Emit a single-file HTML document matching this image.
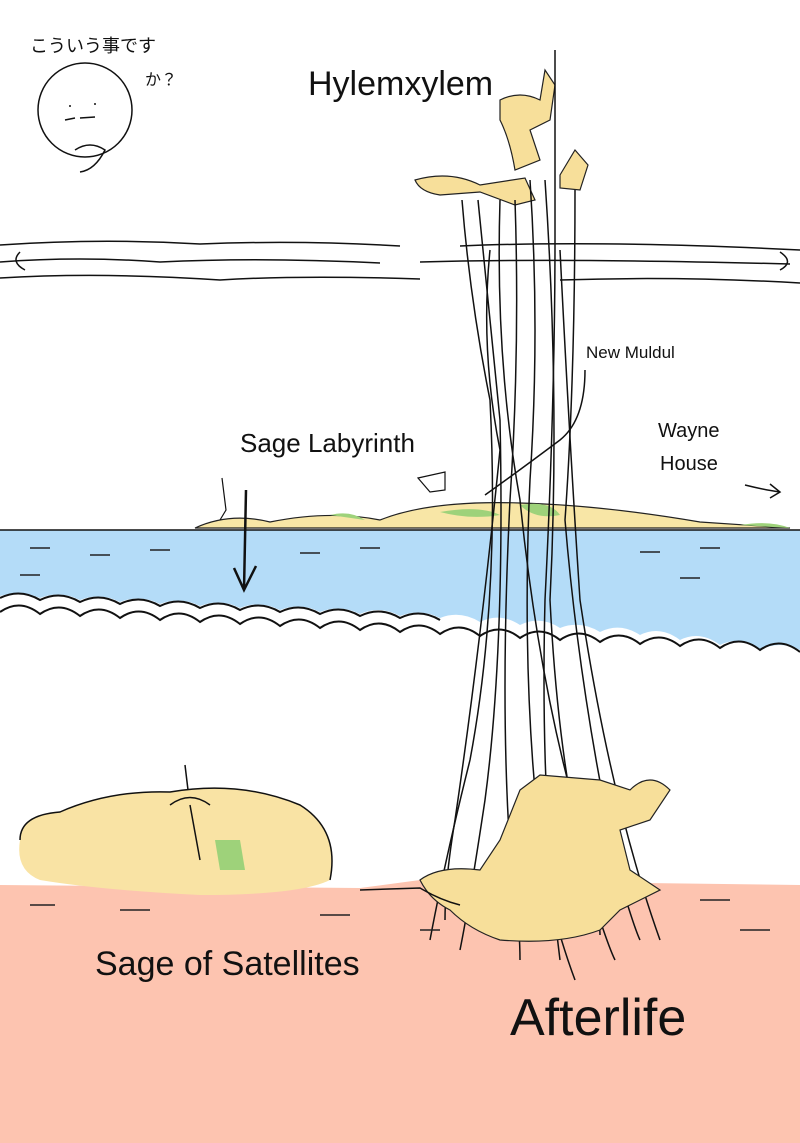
<!DOCTYPE html>
<html><head><meta charset="utf-8"><style>
html,body{margin:0;padding:0;background:#fff;width:800px;height:1143px;overflow:hidden}
svg{display:block}
text{font-family:"Liberation Sans","Noto Sans CJK JP",sans-serif;fill:#111}
</style></head><body>
<svg width="800" height="1143" viewBox="0 0 800 1143" xmlns="http://www.w3.org/2000/svg">
<!-- ground -->
<path d="M0 885 L360 888 L420 880 L800 885 L800 1143 L0 1143Z" fill="#fdc4b0"/>
<!-- sea -->
<path d="M0 530 L800 530 L800 650 Q780 640 760 650 Q740 635 720 645 Q700 630 680 640 Q660 625 640 635 Q620 622 600 632 Q580 620 560 628 Q540 615 520 625 Q500 612 480 622 Q460 610 440 618 Q420 608 400 616 Q380 605 360 614 Q340 604 320 612 Q300 602 280 610 Q260 600 240 608 Q220 598 200 606 Q180 596 160 604 Q140 594 120 602 Q100 592 80 600 Q60 590 40 598 Q20 590 0 596Z" fill="#b4dcf8"/>
<path d="M0 612 Q20 598 40 614 Q60 600 80 616 Q100 602 120 618 Q140 604 160 620 Q180 606 200 622 Q220 608 240 624 Q260 610 280 626 Q300 612 320 628 Q340 614 360 630 Q380 616 400 632 Q420 618 440 634 Q460 620 480 636 Q500 622 520 638 Q540 624 560 640 Q580 626 600 642 Q620 628 640 644 Q660 630 680 646 Q700 632 720 648 Q740 634 760 650 Q780 636 800 652" fill="none" stroke="#111" stroke-width="2"/>
<path d="M0 598 Q20 588 40 600 Q60 590 80 602 Q100 592 120 604 Q140 594 160 606 Q180 596 200 608 Q220 598 240 610 Q260 600 280 612 Q300 602 320 614 Q340 604 360 616 Q380 606 400 618 Q420 608 440 620" fill="none" stroke="#111" stroke-width="2"/>
<g stroke="#222" stroke-width="1.5">
<line x1="30" y1="548" x2="50" y2="548"/><line x1="90" y1="555" x2="110" y2="555"/><line x1="150" y1="550" x2="170" y2="550"/><line x1="300" y1="553" x2="320" y2="553"/><line x1="360" y1="548" x2="380" y2="548"/><line x1="640" y1="552" x2="660" y2="552"/><line x1="700" y1="548" x2="720" y2="548"/><line x1="20" y1="575" x2="40" y2="575"/><line x1="680" y1="578" x2="700" y2="578"/>
</g>
<line x1="0" y1="530" x2="800" y2="530" stroke="#111" stroke-width="1.5"/>
<!-- islands -->
<path d="M195 528 Q230 512 270 522 Q330 510 380 520 Q430 500 520 503 Q600 505 700 522 L790 528Z" fill="#f8e6a6" stroke="#222" stroke-width="1.2"/>
<path d="M440 512 Q480 505 500 515 Q470 520 440 512Z M520 505 Q550 500 560 515 Q535 520 520 505Z M740 525 Q770 520 790 528Z M330 515 Q350 510 365 520Z" fill="#9ed27a"/>
<!-- clouds -->
<g fill="none" stroke="#111" stroke-width="1.5">
<path d="M0 245 Q100 238 200 244 Q300 240 400 246 M460 246 Q600 240 800 250"/>
<path d="M0 262 Q80 256 160 262 Q260 257 380 263 M420 262 Q560 258 790 264"/>
<path d="M0 278 Q100 272 220 280 Q300 275 420 279 M560 280 Q680 276 800 283"/>
<path d="M20 252 Q10 262 25 270 M780 252 Q795 262 780 270"/>
</g>
<!-- tower top -->
<path d="M500 100 Q520 90 540 100 L545 70 L555 85 L550 120 L530 130 L540 160 L515 170 Q510 140 500 120Z" fill="#f7df9a" stroke="#222" stroke-width="1.2"/>
<path d="M415 180 Q450 170 480 185 L525 178 L535 200 L515 205 L480 192 L440 195 Q420 192 415 180Z" fill="#f7df9a" stroke="#222" stroke-width="1.2"/>
<path d="M560 175 L575 150 L588 165 L580 190 L560 188Z" fill="#f7df9a" stroke="#222" stroke-width="1.2"/>
<!-- tower lines -->
<g fill="none" stroke="#111" stroke-width="1.5">
<path d="M555 50 L555 240 Q555 400 545 600 Q540 800 560 960"/>
<path d="M462 200 Q470 300 490 400 Q500 600 470 760 Q445 860 430 940"/>
<path d="M478 200 Q490 320 500 420 Q505 650 485 800 Q470 900 460 950"/>
<path d="M515 200 Q520 350 510 500 Q500 700 510 850 Q520 920 520 960"/>
<path d="M530 180 Q540 330 530 480 Q520 700 545 880 Q560 940 575 980"/>
<path d="M545 180 Q560 400 550 600 Q560 800 600 920 Q610 950 615 960"/>
<path d="M575 190 Q575 380 565 520 Q580 700 620 880 Q635 930 640 940"/>
<path d="M500 200 Q495 360 520 500 Q540 700 590 860 Q600 920 600 935"/>
<path d="M490 250 Q480 350 500 450 Q480 650 455 820 Q445 880 445 920"/>
<path d="M560 250 Q570 450 580 600 Q610 800 660 940"/>
<path d="M585 370 Q585 420 560 440 Q520 470 485 495"/>
</g>
<!-- afterlife castle -->
<path d="M420 880 Q440 865 480 870 L500 840 L520 790 L540 775 L600 780 L630 790 Q650 770 670 790 L650 820 L620 830 L630 870 L660 890 L620 910 L600 930 Q560 945 500 940 Q470 930 450 910 Q430 900 420 880Z" fill="#f7df9a" stroke="#222" stroke-width="1.2"/>
<path d="M360 890 L420 888 Q440 900 460 905" fill="none" stroke="#111" stroke-width="1.5"/>
<!-- sage of satellites blob -->
<path d="M20 840 Q20 815 60 812 Q110 790 170 792 Q240 780 300 805 Q340 830 330 880 Q300 895 200 895 Q100 890 40 880 Q15 870 20 840Z" fill="#f9e3a4"/>
<path d="M20 840 Q20 815 60 812 Q110 790 170 792 Q240 780 300 805 Q340 830 330 880" fill="none" stroke="#111" stroke-width="1.5"/>
<path d="M215 840 L240 840 L245 870 L220 870Z" fill="#9ed27a"/>
<path d="M170 805 Q190 790 210 805 M190 805 L200 860 M185 765 L188 790" fill="none" stroke="#111" stroke-width="1.5"/>
<!-- ground dashes -->
<g stroke="#222" stroke-width="1.5">
<line x1="30" y1="905" x2="55" y2="905"/><line x1="120" y1="910" x2="150" y2="910"/><line x1="320" y1="915" x2="350" y2="915"/><line x1="700" y1="900" x2="730" y2="900"/><line x1="740" y1="930" x2="770" y2="930"/><line x1="420" y1="930" x2="440" y2="930"/>
</g>
<!-- arrow -->
<path d="M246 490 L244 590 M234 568 L244 590 L256 566" fill="none" stroke="#111" stroke-width="2.5"/>
<path d="M745 485 Q765 490 780 492 M770 484 L780 492 L770 498" fill="none" stroke="#111" stroke-width="1.5"/>
<!-- figures -->
<path d="M222 478 L226 510 L220 520 M418 478 L445 472 L445 490 L430 492 Z" fill="none" stroke="#111" stroke-width="1.2"/>
<!-- face -->
<circle cx="85" cy="110" r="47" fill="none" stroke="#111" stroke-width="1.5"/>
<path d="M70 105 L70 107 M95 103 L95 105 M65 120 L75 118 M80 118 L95 117 M75 150 Q90 140 105 150 Q95 170 80 172" fill="none" stroke="#111" stroke-width="1.5"/>
<!-- text -->
<text x="30" y="52" font-size="18">こういう事です</text>
<text x="145" y="85" font-size="16">か？</text>
<text x="308" y="95" font-size="34">Hylemxylem</text>
<text x="586" y="358" font-size="17">New Muldul</text>
<text x="240" y="452" font-size="26">Sage Labyrinth</text>
<text x="658" y="437" font-size="20">Wayne</text>
<text x="660" y="470" font-size="20">House</text>
<text x="95" y="975" font-size="34">Sage of Satellites</text>
<text x="510" y="1035" font-size="52">Afterlife</text>
</svg>
</body></html>
